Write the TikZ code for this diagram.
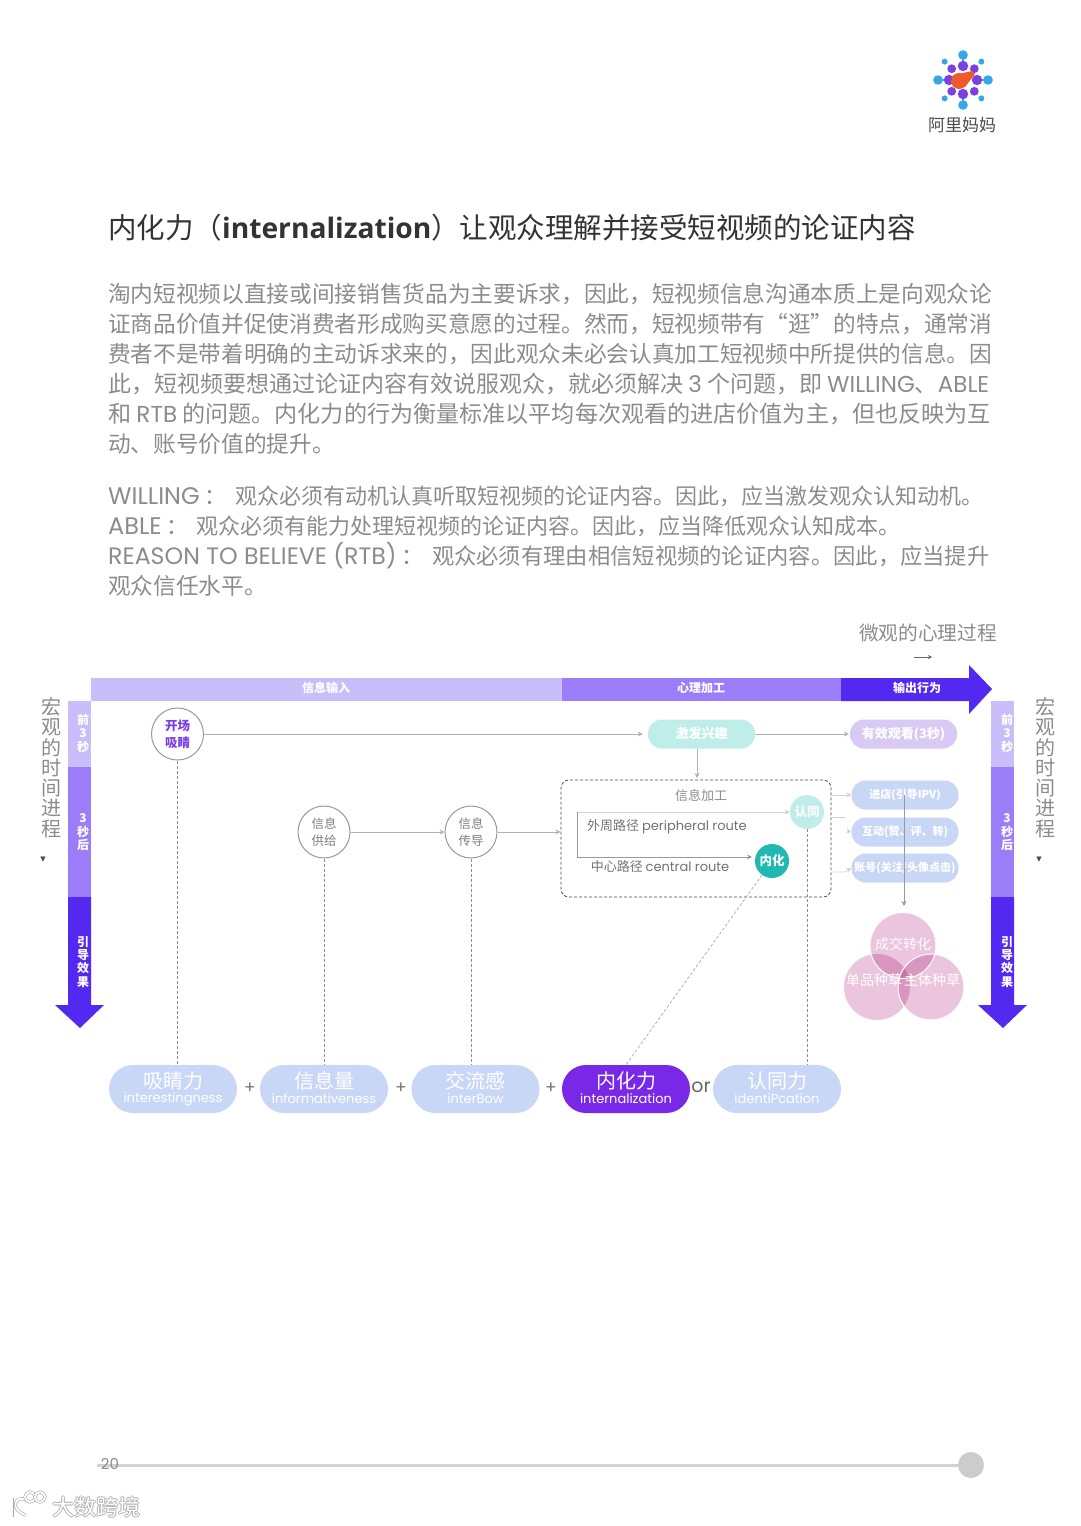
\documentclass[tikz,border=0pt]{standalone}
\usepackage{fontspec}
\setmainfont{Noto Sans CJK SC}
\newfontfamily\latfont{Poppins}
\newfontfamily\titlefont{Open Sans}
\newfontfamily\symfont{DejaVu Sans}
\newcommand{\latn}[1]{{\latfont #1}}
\newcommand{\fs}[1]{\fontsize{#1}{20}\selectfont}
\newcommand{\fstwo}[1]{\fontsize{#1}{17}\selectfont}
\usetikzlibrary{arrows.meta, positioning, calc}
\definecolor{barlight}{HTML}{C9BEFA}
\definecolor{barmid}{HTML}{9B7DFA}
\definecolor{bardark}{HTML}{5328F0}
\definecolor{pillblue}{HTML}{C9D7F6}
\definecolor{pilltea}{HTML}{BFEDEA}
\definecolor{pilllil}{HTML}{D9C9F5}
\definecolor{tealc}{HTML}{20B8B0}
\definecolor{bodygray}{HTML}{8C8C8C}
\definecolor{vennc}{HTML}{EBC4DE}
\definecolor{knowc}{HTML}{7A28E8}
\definecolor{logoblue}{HTML}{35A7E8}
\definecolor{logoviolet}{HTML}{7B3FE4}
\definecolor{logoorange}{HTML}{EE5A2A}
\tikzset{
  bodyline/.style={anchor=base west, inner sep=0pt, text=bodygray},
  sidelabel/.style={inner sep=0pt, text=bodygray, font=\fs{20}},
  bartext/.style={inner sep=0pt, text=white, font=\bfseries\fs{12}},
  pill/.style={inner sep=0pt, text=white, rounded corners=14pt, minimum width=107pt, minimum height=29pt, font=\bfseries\fs{11}},
  bigpill/.style={inner sep=0pt, rounded corners=24pt, minimum width=128pt, minimum height=48pt},
  stagec/.style={circle, draw=gray!80, line width=1pt, fill=white, minimum size=52pt, inner sep=0pt, align=center, text=gray, font=\fstwo{12.5}},
  minic/.style={circle, minimum size=34pt, inner sep=0pt, text=white, font=\bfseries\fs{12.5}},
  vennshape/.style={circle, fill=vennc, minimum size=66pt, inner sep=0pt},
  flow/.style={draw=gray!60, line width=.7pt, -{Stealth[length=5pt,width=5pt]}},
  faint/.style={draw=gray!35, line width=.7pt, -{Stealth[length=5pt,width=5pt]}},
  dropline/.style={draw=gray!90, line width=.8pt, densely dashed},
  stampline/.style={gray!70, double=white, double distance=1.8pt, line width=.6pt}
}
\begin{document}
\begin{tikzpicture}[x=1pt,y=-1pt,>=stealth]
\path[use as bounding box, fill=white] (0,0) rectangle (1080,1526);
% logo
\foreach \a in {0,90,180,270}
{
    \draw[logoblue, line width=2pt] ($(963,80)+(\a:14)$) -- ($(963,80)+(\a:26)$);
    \fill[logoblue] ($(963,80)+(\a:25)$) circle (4.8);
    \fill[logoviolet] ($(963,80)+(\a:14)$) circle (5.2);
    \fill[logoviolet] ($(963,80)+(\a+45:16)$) circle (4.4);
    \fill[logoblue] ($(963,80)+(\a+45:26)$) circle (3);
}
\fill[logoorange] (959,81) circle (8);
\fill[logoorange] (954,75) -- (972,71) -- (975,74) -- (965,87) -- cycle;
\node[inner sep=0pt, text=black!70, font=\fs{17}] (logotext) at (962,125) {阿里妈妈};
% title and text
\node[anchor=base west, inner sep=0pt, text=black!80, font=\fs{28.5}] (title) at (108,238) {内化力（{\titlefont\bfseries\fs{28.2}internalization}）让观众理解并接受短视频的论证内容};
\foreach \y/\s/\t in {
    302/22.67/{淘内短视频以直接或间接销售货品为主要诉求，因此，短视频信息沟通本质上是向观众论},
    332/22.67/{证商品价值并促使消费者形成购买意愿的过程。然而，短视频带有“逛”的特点，通常消},
    362/22.67/{费者不是带着明确的主动诉求来的，因此观众未必会认真加工短视频中所提供的信息。因},
    392/23/{此，短视频要想通过论证内容有效说服观众，就必须解决 \latn{3} 个问题，即 \latn{WILLING}、\latn{ABLE}},
    422/23.1/{和 \latn{RTB} 的问题。内化力的行为衡量标准以平均每次观看的进店价值为主，但也反映为互},
    452/22.67/{动、账号价值的提升。},
    504/22/{\latn{\fs{24}WILLING} ：\hspace{4pt} 观众必须有动机认真听取短视频的论证内容。因此，应当激发观众认知动机。},
    534/22/{\latn{\fs{24}ABLE} ：\hspace{3pt} 观众必须有能力处理短视频的论证内容。因此，应当降低观众认知成本。},
    564/22.3/{\latn{\fs{23.7}REASON TO BELIEVE (RTB)} ：\hspace{3pt} 观众必须有理由相信短视频的论证内容。因此，应当提升},
    594/22.67/{观众信任水平。}}
{
    \node[bodyline] at (108,\y) {\fs{\s}\t};
}
% top arrow
\fill[barlight] (91,678) rectangle (562,701);
\fill[barmid] (562,678) rectangle (841,701);
\fill[bardark] (841,678) -- (969,678) -- (969,665) -- (992,689) -- (969,714) -- (969,701) -- (841,701) -- cycle;
\node[bartext] (input) at (326,688) {信息输入};
\node[bartext] (proc) at (701,688) {心理加工};
\node[bartext] (output) at (917,688) {输出行为};
\node[inner sep=0pt, text=bodygray, font=\fs{19.7}] (micro) at (928,633) {微观的心理过程};
\coordinate (mA) at (914,657);
\coordinate (mB) at (932,657);
\draw[black!60, line width=.8pt, -{Stealth[length=4pt,width=4pt]}] (mA) -- (mB);
% side arrows
\foreach \x/\tx/\lx/\tri in {68/83/51/43, 991/1007/1045/1039}
{
    \fill[barlight] (\x,701) rectangle (\x+23,767);
    \fill[barmid] (\x,767) rectangle (\x+23,897);
    \fill[bardark] (\x,897) -- (\x+23,897) -- (\x+23,1005) -- (\x+36,1005) -- (\x+12,1028) -- (\x-13,1005) -- (\x,1005) -- cycle;
    \foreach \y/\c in {720/前,733/3,747/秒,818/3,832/秒,845/后,942/引,955/导,968/效,982/果}
        \node[bartext] at (\tx,\y) {\c};
    \foreach \y/\c in {707/宏,727/观,748/的,768/时,788/间,808/进,829/程}
        \node[sidelabel] at (\lx,\y) {\c};
    \node[inner sep=0pt, text=black!70, font=\symfont\fs{7}] at (\tri,860) {▼};
}
% stages
\node[stagec, text=logoviolet, font=\bfseries\fstwo{12.5}] (open) at (177.5,734) {开场\\吸睛};
\node[stagec] (supply) at (324,832) {信息\\供给};
\node[stagec] (relay) at (471,832) {信息\\传导};
\node[pill, fill=pilltea, font=\bfseries\fs{13}] (spark) at (701.5,734) {激发兴趣};
\node[pill, fill=pilllil, font=\bfseries\fs{13}] (watch) at (903.5,734) {有效观看(3秒)};
\node[pill, fill=pillblue] (shop) at (905,795) {进店(引导IPV)};
\node[pill, fill=pillblue] (talk) at (905,832) {互动(赞、评、转)};
\node[pill, fill=pillblue] (acct) at (905,868) {账号(关注/头像点击)};
\node[draw=black!70, line width=.8pt, densely dashed, rounded corners=8pt, minimum width=270pt, minimum height=117pt, inner sep=0pt] (work) at (696,838.5) {};
\node[inner sep=0pt, text=bodygray, font=\fs{13}] (worktext) at (701,796) {信息加工};
\node[minic, fill=pilltea] (agree) at (807,812) {认同};
\node[minic, fill=tealc] (inner) at (772,861) {内化};
\node[inner sep=0pt, text=black!55, font=\fs{13}] (peri) at (667,827) {外周路径 \latn{peripheral route}};
\node[inner sep=0pt, text=black!55, font=\fs{13}] (cent) at (660,867) {中心路径 \latn{central route}};
\coordinate (fork) at (577,812);
\coordinate (forkB) at (577,857);
\coordinate (forkC) at (752,857);
\coordinate (talkA) at (845,817);
\coordinate (talkB) at (847,831);
\coordinate (acctA) at (845,872);
\draw[flow] (open.east) -- ([xshift=-5pt]spark.west);
\draw[flow] (spark) -- ([xshift=-1pt]watch.west);
\draw[flow] (spark.south -| 697,0) -- (697,778);
\draw[flow] (supply) -- (relay);
\draw[flow] (relay) -- (work.west |- relay);
\draw[faint] (fork) -- (agree.west |- fork);
\draw[flow, draw=gray!80] (fork) -- (forkB) -- (forkC);
\draw[faint] (work.east |- shop) -- (shop);
\draw[draw=gray!35, line width=.7pt] (work.east |- talkA) -- (talkA);
\draw[faint] (talkB) -- (talk.west);
\draw[faint] (work.east |- acctA) -- (acctA) -- (acct.west);
% venn
\begin{scope}[blend group=multiply]
\node[vennshape] (deal) at (903,945.5) {};
\node[vennshape] (item) at (877,987) {};
\node[vennshape] (body) at (931,987) {};
\end{scope}
\draw[white, line width=1pt] (deal) circle (33);
\draw[white, line width=1pt] (body) circle (33);
\node[inner sep=0pt, text=white, font=\fs{14}] at (903,944) {成交转化};
\node[inner sep=0pt, text=white, font=\fs{14}] at (874,980) {单品种草};
\node[inner sep=0pt, text=white, font=\fs{14}] at (932,980) {主体种草};
\draw[draw=gray!80, line width=.7pt, -{Stealth[length=5pt,width=5pt]}] (shop.center -| 904,0) -- (904,906);
% bottom row
\foreach \n/\x/\a/\b/\c in {sight/173/吸睛力/interestingness/pillblue, info/324/信息量/informativeness/pillblue, flux/475.5/交流感/interBow/pillblue, know/626/内化力/internalization/knowc, self/777/认同力/identiPcation/pillblue}
{
    \node[bigpill, fill=\c] (\n) at (\x,1089) {};
    \node[inner sep=0pt, text=white, font=\fs{20}] at (\x,1081) {\a};
    \node[inner sep=0pt, text=white, font=\latfont\fs{13}] at (\x,1099) {\b};
}
\foreach \x in {250,401,551}
    \node[inner sep=0pt, text=black!55, font=\latfont\fs{17}] at (\x,1088) {+};
\node[inner sep=0pt, text=black!60, font=\latfont\fs{19}] (ortext) at (701,1087) {or};
\draw[dropline] (open) -- (open |- sight.north);
\draw[dropline] (supply) -- (supply |- info.north);
\draw[dropline] (relay) -- (relay |- flux.north);
\draw[dropline, draw=gray!60] (inner) -- (know.north);
\draw[dropline] (agree) -- (agree |- self.north);
% footer
\node[circle, fill=gray!40, minimum size=26pt, inner sep=0pt] (pagedot) at (971,1465) {};
\coordinate (pagestart) at (97,1465);
\draw[gray!35, line width=3pt] (pagestart) -- (pagedot);
\node[inner sep=0pt, text=bodygray, font=\latfont\fs{15}] (pagenum) at (110,1464) {20};
\foreach \dx/\dy in {-1/0,1/0,0/-1,0/1}
    \node[inner sep=0pt, text=gray!60, font=\fs{22}] at (96+\dx,1507+\dy) {大数跨境};
\node[inner sep=0pt, text=white, font=\fs{22}] (stamp) at (96,1507) {大数跨境};
\draw[stampline] (12,1498) -- (12,1517);
\draw[stampline] (26,1500) .. controls (15,1494) and (9,1510) .. (26,1515);
\draw[stampline] (30,1497) circle (5);
\draw[stampline] (40,1497) circle (5);
\end{tikzpicture}
\end{document}
